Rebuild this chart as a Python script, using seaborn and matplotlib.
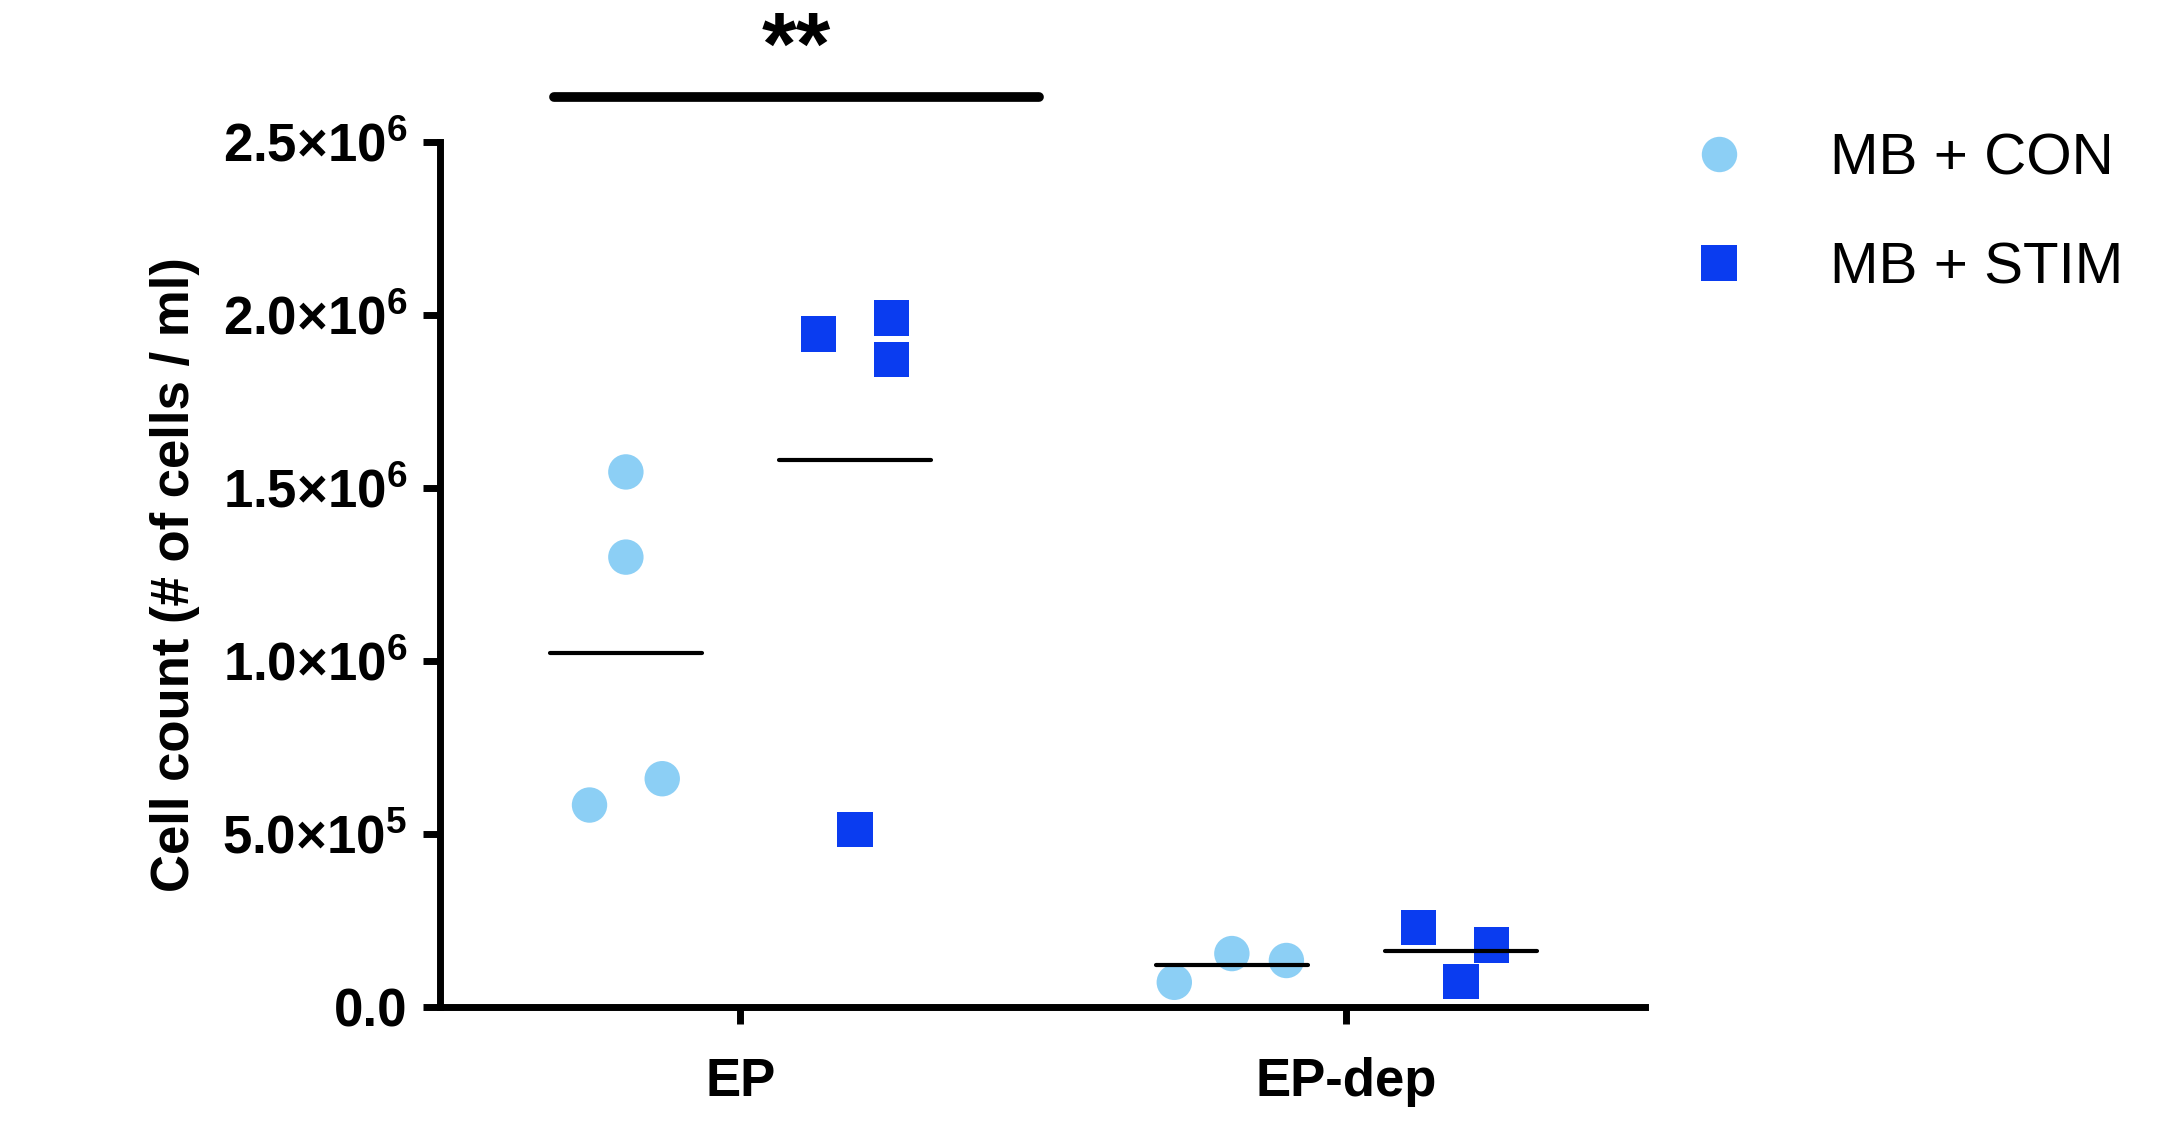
import matplotlib
matplotlib.use("Agg")
import matplotlib.pyplot as plt
import seaborn as sns
import pandas as pd
import numpy as np

sns.set_style("ticks")
plt.rcParams['font.family'] = ['Liberation Sans', 'DejaVu Sans']
plt.rcParams['mathtext.fontset'] = 'custom'
plt.rcParams['mathtext.rm'] = 'Liberation Sans'
plt.rcParams['mathtext.bf'] = 'Liberation Sans:bold'
plt.rcParams['text.color'] = 'black'
plt.rcParams['axes.labelcolor'] = 'black'
plt.rcParams['xtick.color'] = 'black'
plt.rcParams['ytick.color'] = 'black'
plt.rcParams['axes.edgecolor'] = 'black'

categories = ["EP", "EP-dep"]
groups = ["MB + CON", "MB + STIM"]
ep_con = [0.584e6, 1.546e6, 1.30e6, 0.66e6]
ep_stim = [1.944e6, 1.99e6, 1.87e6, 0.513e6]
epdep_con = [0.072e6, 0.155e6, 0.135e6]
epdep_stim = [0.23e6, 0.18e6, 0.075e6]
yticks = [0, 0.5e6, 1.0e6, 1.5e6, 2.0e6, 2.5e6]
ytick_labels = ["0.0", r"$\mathbf{5.0{\times}10^{5}}$", r"$\mathbf{1.0{\times}10^{6}}$",
                r"$\mathbf{1.5{\times}10^{6}}$", r"$\mathbf{2.0{\times}10^{6}}$",
                r"$\mathbf{2.5{\times}10^{6}}$"]

jit = {("EP", "MB + CON"): [-0.06, 0.0, 0.0, 0.06],
       ("EP", "MB + STIM"): [-0.06, 0.06, 0.06, 0.0],
       ("EP-dep", "MB + CON"): [-0.095, 0.0, 0.09],
       ("EP-dep", "MB + STIM"): [-0.07, 0.05, 0.0]}
hue_off = {"MB + CON": -0.189, "MB + STIM": 0.189}

rows = []
for ci, cat in enumerate(categories):
    for g, vals in zip(groups, [(ep_con, ep_stim), (epdep_con, epdep_stim)][ci]):
        for v, j in zip(vals, jit[(cat, g)]):
            rows.append(dict(cat=cat, group=g, value=v, x=ci + hue_off[g] + j))
df = pd.DataFrame(rows)

fig = plt.figure(figsize=(21.59, 11.42), dpi=100)
ax = fig.add_axes([0.204, 0.118, 0.558, 0.758])
sns.scatterplot(data=df, x="x", y="value", hue="group", style="group",
                markers={"MB + CON": "o", "MB + STIM": "s"},
                palette={"MB + CON": "#8ccff5", "MB + STIM": "#0a3cf0"},
                s=650, linewidth=0, ax=ax, legend=True, clip_on=False, zorder=3)

for ci, cat in enumerate(categories):
    for g in groups:
        m = df[(df.cat == cat) & (df.group == g)].value.mean()
        c = ci + hue_off[g]
        ax.plot([c - 0.125, c + 0.125], [m, m], color="black", lw=3, zorder=4)

ax.set_xlim(-0.495, 1.493)
ax.set_ylim(0, 2.5e6)
ax.set_xticks([0, 1])
ax.set_xticklabels(categories)
ax.set_yticks(yticks)
ax.set_yticklabels(ytick_labels)
for lab in ax.get_xticklabels() + ax.get_yticklabels():
    lab.set_fontweight("bold")
    lab.set_fontsize(38)
ax.tick_params(axis="both", width=5, length=12, pad=12)
ax.tick_params(axis="x", pad=24)
for s in ["left", "bottom"]:
    ax.spines[s].set_linewidth(5)
sns.despine(ax=ax)
ax.set_xlabel("")
ax.set_ylabel("Cell count (# of cells / ml)", fontsize=38, fontweight="bold", labelpad=16)

ax.plot([-0.307, 0.493], [2.63e6, 2.63e6], color="black", lw=7,
        solid_capstyle="round", clip_on=False)
ax.text(0.093, 2.64e6, "**", ha="center", va="bottom", fontsize=64, fontweight="bold")

h, l = ax.get_legend_handles_labels()
ax.legend_.remove()
fig.legend(h, l, loc="upper left", bbox_to_anchor=(0.745, 0.93), frameon=False,
           fontsize=42, markerscale=1.0, handletextpad=0.9, labelspacing=0.95)

fig.savefig("out.png", dpi=100)
